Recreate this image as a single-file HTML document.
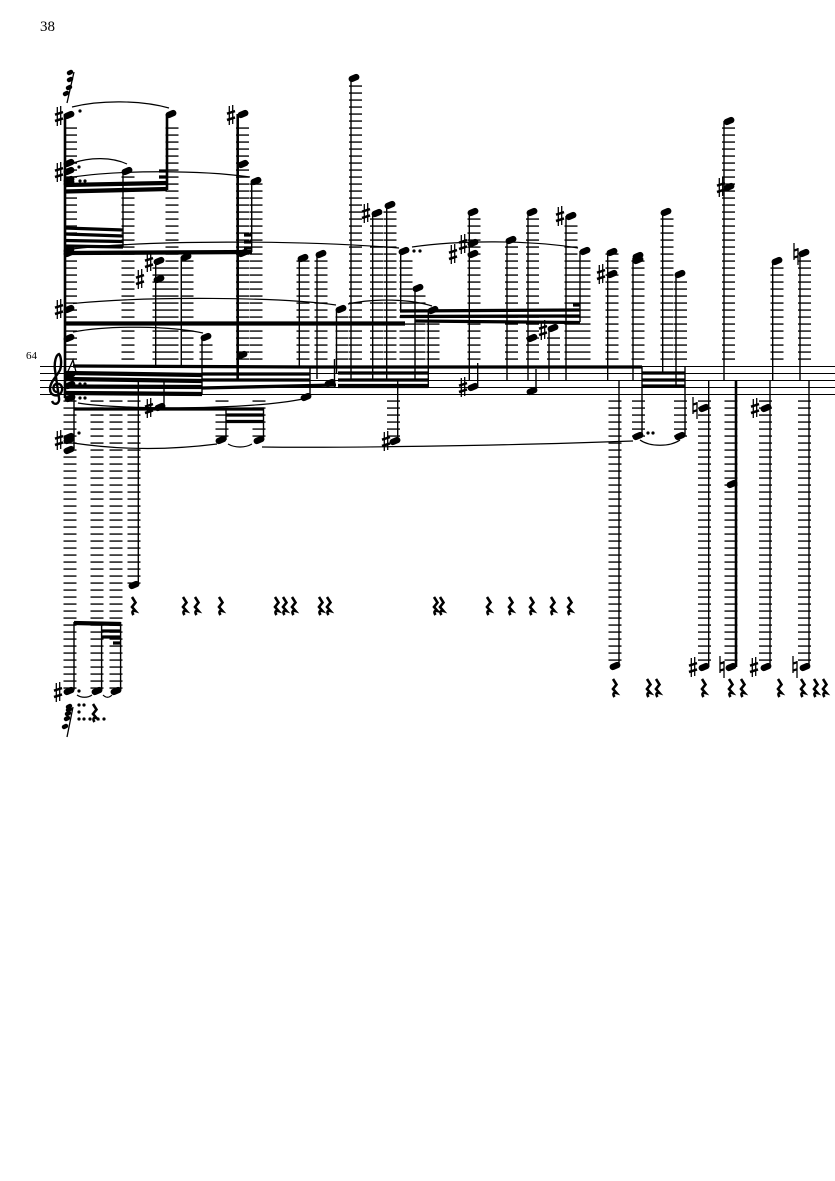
<!DOCTYPE html>
<html><head><meta charset="utf-8"><style>
html,body{margin:0;padding:0;background:#fff}
svg{display:block}
text{font-family:"Liberation Serif",serif;fill:#000}
path{fill:none;stroke:#000}
</style></head><body>
<svg width="835" height="1181" viewBox="0 0 835 1181" xmlns="http://www.w3.org/2000/svg">
<rect width="835" height="1181" fill="#fff"/>
<text x="40" y="31" font-size="15">38</text>
<text x="26" y="359" font-size="11">64</text>
<!-- staff -->
<path stroke="#444" stroke-width="1" d="M40 366.500H835M40 373.500H835M40 380.500H835M40 387.500H835M40 394.500H835"/>
<!-- ledger lines -->
<path stroke="#111" stroke-width="13" stroke-dasharray="1.300 5.700" d="M70.500 127.400V360M128 176.400V360M172 127.400V360M159 267.400V360M187 260.400V360M242.500 127.400V360M256 183.400V360M206 344.400V360M303 260.400V360M321 260.400V360M342 316.400V360M355.500 85.400V360M376.500 218.400V360M390 211.400V360M406 260.400V360M419 295.400V360M433 316.400V360M474 218.400V360M511.500 246.400V360M532.500 218.400V360M553.500 337.400V360M571 225.400V360M584 260.400V360M612 253.400V360M638 260.400V360M667 218.400V360M680.500 281.400V360M728.500 127.400V360M777 267.400V360M804.500 260.400V360M70 400.400V689M97 400.400V689M116 400.400V689M134 400.400V584M222 400.400V437M259 400.400V437M393.500 400.400V437M615 400.400V661M638.500 400.400V437M680.500 400.400V437M704.500 400.400V661M731 400.400V661M765.500 400.400V661M804.500 400.400V661"/>
<!-- thin stems -->
<path stroke-width="1.400" d="M123 171V247M155.700 262V367M181.300 257V367M251.700 181V252M202 337V394M299.300 258V367M317 254V379M336.500 309V373M351 78V380M372.700 213V380M386.700 205V380M400.700 251V311M415 288V380M428.300 310V387M469.300 212V380M507 240V380M528 212V380M549 328V380M566 216V380M580 251V322M607.700 252V380M633 258V380M662.700 212V373M676 274V386M724 121V380M772.700 261V380M800 253V380M74 394V449M164 380V408M226 409V440M263.500 409V440M310 366V397M334.500 359V387M397.700 381V441M477.700 363V387M536 369V391M642 366V436M685 366V436M619 380V666M708.700 380V667M770 380V667M809 380V667M138.300 380V585M74 622V690M101.600 622V690M120.600 622V690"/>
<path stroke-width="2.600" d="M65 114V398M237.700 114V380M167 114V190M736 380V667"/>
<!-- beams -->
<path stroke-width="3.300" d="M73 366L310 367M310 367H642M202 374H310M202 380H310M202 388L336 385M338 373H428M338 380H428M642 373H685M642 380H685M642 386H685M400 311L580 310M400 316.500L580 316M415 321L580 322.500M159 171H167M159 177H167M65 228L123 230M65 234L123 236M65 240.500L123 241.500M65 246L123 247M244 235H252M244 242H252M244 248H252M74 409H264M226 415H264M226 421.500H264M102 631H121M102 637H121M113 643H121M573 305H580"/>
<path stroke-width="4.300" d="M66 373L202 375M66 379L202 381M66 386.500L202 387M66 393L202 394M338 386H428M65 323.500H405M65 185L167 183M65 191.500L167 189M65 253L252 252M74 623L121 624"/>
<!-- noteheads -->
<path transform="translate(-.7 .1)" stroke-width="6.400" stroke-linecap="round" d="M67.500 115.800l4.400-1.800M67.500 163.800l4.400-1.800M67.500 171.800l4.400-1.800M67.500 180.800l4.400-1.800M67.500 183.800l4.400-1.800M67.500 250.800l4.400-1.800M67.500 253.800l4.400-1.800M67.500 309.800l4.400-1.800M67.500 338.800l4.400-1.800M68.500 375.800l4.400-1.800M68.500 385.800l4.400-1.800M68.500 398.800l4.400-1.800M67.500 437.800l4.400-1.800M67.500 440.800l4.400-1.800M67.500 450.800l4.400-1.800M125.500 171.800l4.400-1.800M169.500 114.800l4.400-1.800M157.500 261.800l4.400-1.800M157.500 279.800l4.400-1.800M184.500 257.800l4.400-1.800M241.500 114.800l4.400-1.800M241.500 164.800l4.400-1.800M241.500 253.800l4.400-1.800M240.500 355.800l4.400-1.800M254.500 181.800l4.400-1.800M204.500 337.800l4.400-1.800M301.500 258.800l4.400-1.800M319.500 254.800l4.400-1.800M339.500 309.800l4.400-1.800M352.500 78.800l4.400-1.800M375.500 213.800l4.400-1.800M388.500 205.800l4.400-1.800M402.500 251.800l4.400-1.800M416.500 288.800l4.400-1.800M431.500 310.800l4.400-1.800M471.500 212.800l4.400-1.800M471.500 243.800l4.400-1.800M471.500 254.800l4.400-1.800M509.500 240.800l4.400-1.800M530.500 212.800l4.400-1.800M530.500 338.800l4.400-1.800M551.500 328.800l4.400-1.800M569.500 216.800l4.400-1.800M583.500 251.800l4.400-1.800M610.500 252.800l4.400-1.800M610.500 274.800l4.400-1.800M636.500 256.800l4.400-1.800M636.500 260.800l4.400-1.800M664.500 212.800l4.400-1.800M678.500 274.800l4.400-1.800M727.500 121.800l4.400-1.800M727.500 187.800l4.400-1.800M775.500 261.800l4.400-1.800M802.500 253.800l4.400-1.800M158.500 407.800l4.400-1.800M219.500 440.800l4.400-1.800M257.500 440.800l4.400-1.800M304.500 397.800l4.400-1.800M328.500 383.800l4.400-1.800M393.500 441.800l4.400-1.800M471.500 387.800l4.400-1.800M530.500 391.800l4.400-1.800M636.500 436.800l4.400-1.800M678.500 436.800l4.400-1.800M702.500 408.800l4.400-1.800M764.500 408.800l4.400-1.800M132.500 585.800l4.400-1.800M67.500 691.800l4.400-1.800M95.500 691.800l4.400-1.800M114.500 691.800l4.400-1.800M613.500 666.800l4.400-1.800M702.500 667.800l4.400-1.800M729.500 667.800l4.400-1.800M764.500 667.800l4.400-1.800M803.500 667.800l4.400-1.800M730.500 484.800l4.400-1.800"/>
<!-- grace clusters -->
<path stroke-width="4.400" stroke-linecap="round" d="M69 73l2-1M69 80l2-1M68 88l2-1M65 94l2-1M68 707l2-1M68 710l2-1M67 714l2-1M66 719l2-1M64 727l2-1"/>
<path stroke-width="1.300" d="M74 72L67 103M73 707L67 737M65 378L73 360L76 372"/>
<!-- sharps -->
<path stroke-width="1.300" d="M57.300 107v19M60.700 106v19M57.300 163v19M60.700 162v19M147.300 253v19M150.700 252v19M138.300 270v19M141.700 269v19M229.300 106v19M232.700 105v19M57.300 300v19M60.700 299v19M57.300 431v19M60.700 430v19M147.300 399v19M150.700 398v19M364.300 204v19M367.700 203v19M451.300 245v19M454.700 244v19M461.300 235v19M464.700 234v19M461.300 378v19M464.700 377v19M541.300 321v19M544.700 320v19M558.300 207v19M561.700 206v19M599.300 265v19M602.700 264v19M753.300 399v19M756.700 398v19M719.300 178v19M722.700 177v19M384.300 432v19M387.700 431v19M56.300 683v19M59.700 682v19M691.300 658v19M694.700 657v19M752.300 658v19M755.700 657v19"/>
<path stroke-width="2.500" d="M55 114.700l8-2.600M55 121l8-2.600M55 170.700l8-2.600M55 177l8-2.600M145 260.700l8-2.600M145 267l8-2.600M136 277.700l8-2.600M136 284l8-2.600M227 113.700l8-2.600M227 120l8-2.600M55 307.700l8-2.600M55 314l8-2.600M55 438.700l8-2.600M55 445l8-2.600M145 406.700l8-2.600M145 413l8-2.600M362 211.700l8-2.600M362 218l8-2.600M449 252.700l8-2.600M449 259l8-2.600M459 242.700l8-2.600M459 249l8-2.600M459 385.700l8-2.600M459 392l8-2.600M539 328.700l8-2.600M539 335l8-2.600M556 214.700l8-2.600M556 221l8-2.600M597 272.700l8-2.600M597 279l8-2.600M751 406.700l8-2.600M751 413l8-2.600M717 185.700l8-2.600M717 192l8-2.600M382 439.700l8-2.600M382 446l8-2.600M54 690.700l8-2.600M54 697l8-2.600M689 665.700l8-2.600M689 672l8-2.600M750 665.700l8-2.600M750 672l8-2.600"/>
<!-- naturals -->
<path stroke-width="1.300" d="M693 397v17M697 402v17M794 243v17M798 248v17M720 656v17M724 661v17M793 656v17M797 661v17"/>
<path stroke-width="2.300" d="M693 404.500l4-1.200M693 411.500l4-1.200M794 250.500l4-1.200M794 257.500l4-1.200M720 663.500l4-1.200M720 670.500l4-1.200M793 663.500l4-1.200M793 670.500l4-1.200"/>
<!-- ties -->
<path stroke-width="1.200" d="M72 107C100 100 140 100 169 108M73 163C90 157 112 157 127 164M73 177C120 170 200 170 250 177M72 249C150 240 300 240 399 248M412 247C460 240 530 240 578 248M73 303.500C150 296 280 297 336 305M348 304C375 298 410 299 432 306M73 332C110 325 170 326 203 333M78 403C120 410 250 410 303 399M73 443C120 450 170 450 217 444M228 444C235 448 245 448 252 444M262 447C330 448 500 446 633 441M640 440C650 447 670 447 680 440M77 695C81 698 88 698 92 695M103 695C106 698 109 698 112 695"/>
<!-- dots -->
<path stroke-width="3.200" stroke-linecap="round" d="M80 111h.01M79 167h.01M80 181h.01M85 181h.01M80 384h.01M85 384h.01M80 398h.01M85 398h.01M79 433h.01M414 251h.01M420 251h.01M648 433h.01M653 433h.01M79 691h.01M79 705h.01M84 705h.01M79 712h.01M79 719h.01M84 719h.01M90 719h.01M98 719h.01M104 719h.01"/>
<!-- clef -->
<path stroke-width="2.400" d="M57 392C53 392 52 386 56 384C62 382 64 390 60 394C56 397 50 395 50 389C50 382 57 376 60 370C62 364 61 356 59 354C56 355 54 362 55 370L59 398C60 404 54 406 52 401"/>
<!-- rests -->
<path stroke-width="2.600" d="M132 597l3.500 5.500-3.500 4.500 3.500 4c-3-.8-4 1-2 4M183 597l3.500 5.500-3.500 4.500 3.500 4c-3-.8-4 1-2 4M195 597l3.500 5.500-3.500 4.500 3.500 4c-3-.8-4 1-2 4M219 597l3.500 5.500-3.500 4.500 3.500 4c-3-.8-4 1-2 4M275 597l3.500 5.500-3.500 4.500 3.500 4c-3-.8-4 1-2 4M283 597l3.500 5.500-3.500 4.500 3.500 4c-3-.8-4 1-2 4M292 597l3.500 5.500-3.500 4.500 3.500 4c-3-.8-4 1-2 4M319 597l3.500 5.500-3.500 4.500 3.500 4c-3-.8-4 1-2 4M327 597l3.500 5.500-3.500 4.500 3.500 4c-3-.8-4 1-2 4M434 597l3.500 5.500-3.500 4.500 3.500 4c-3-.8-4 1-2 4M440 597l3.500 5.500-3.500 4.500 3.500 4c-3-.8-4 1-2 4M487 597l3.500 5.500-3.500 4.500 3.500 4c-3-.8-4 1-2 4M509 597l3.500 5.500-3.500 4.500 3.500 4c-3-.8-4 1-2 4M530 597l3.500 5.500-3.500 4.500 3.500 4c-3-.8-4 1-2 4M551 597l3.500 5.500-3.500 4.500 3.500 4c-3-.8-4 1-2 4M568 597l3.500 5.500-3.500 4.500 3.500 4c-3-.8-4 1-2 4M613 679l3.500 5.500-3.500 4.500 3.500 4c-3-.8-4 1-2 4M647 679l3.500 5.500-3.500 4.500 3.500 4c-3-.8-4 1-2 4M656 679l3.500 5.500-3.500 4.500 3.500 4c-3-.8-4 1-2 4M702 679l3.500 5.500-3.500 4.500 3.500 4c-3-.8-4 1-2 4M729 679l3.500 5.500-3.500 4.500 3.500 4c-3-.8-4 1-2 4M741 679l3.500 5.500-3.500 4.500 3.500 4c-3-.8-4 1-2 4M778 679l3.500 5.500-3.500 4.500 3.500 4c-3-.8-4 1-2 4M801 679l3.500 5.500-3.500 4.500 3.500 4c-3-.8-4 1-2 4M814 679l3.500 5.500-3.500 4.500 3.500 4c-3-.8-4 1-2 4M823 679l3.500 5.500-3.500 4.500 3.500 4c-3-.8-4 1-2 4M93 704l3.500 5.500-3.500 4.500 3.500 4c-3-.8-4 1-2 4"/>
</svg>
</body></html>
